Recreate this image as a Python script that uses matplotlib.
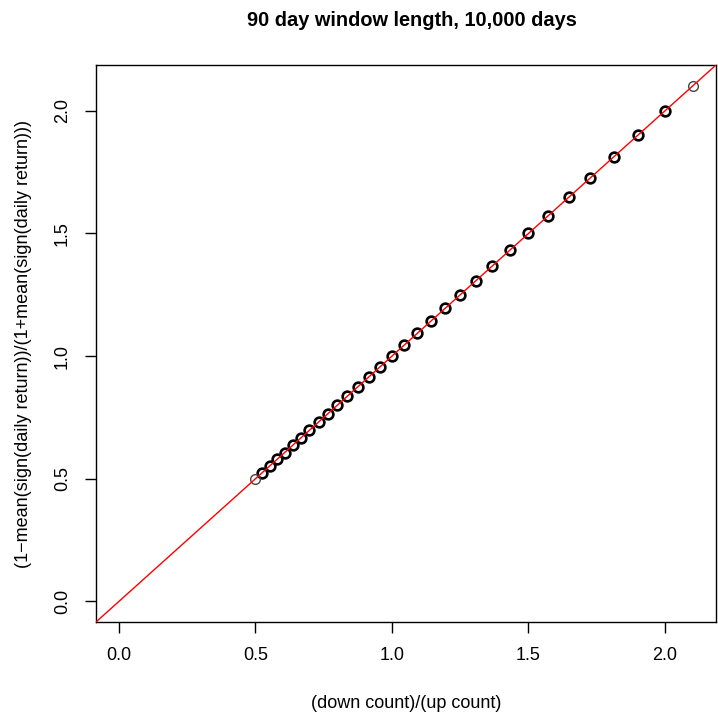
import numpy as np
import matplotlib.pyplot as plt

# down/up count ratios seen in 90-day windows
ratio_x = [0.500, 0.525, 0.552, 0.579, 0.607, 0.636, 0.667, 0.698, 0.731,
           0.765, 0.800, 0.837, 0.875, 0.915, 0.957, 1.000, 1.045, 1.093,
           1.143, 1.195, 1.250, 1.308, 1.368, 1.432, 1.500, 1.571, 1.647,
           1.727, 1.813, 1.903, 2.000, 2.103]
ratio_y = [0.500, 0.525, 0.552, 0.579, 0.607, 0.636, 0.667, 0.698, 0.731,
           0.765, 0.800, 0.837, 0.875, 0.915, 0.957, 1.000, 1.045, 1.093,
           1.143, 1.195, 1.250, 1.308, 1.368, 1.432, 1.500, 1.571, 1.647,
           1.727, 1.813, 1.903, 2.000, 2.103]
ticks = [0.0, 0.5, 1.0, 1.5, 2.0]

plt.rcParams['font.family'] = ['Liberation Sans', 'DejaVu Sans']

fig = plt.figure(figsize=(7.18, 7.19), dpi=100)
ax = fig.add_axes([96 / 718, 1 - 622 / 719, 620 / 718, 557 / 719])

lo, hi = -0.084, 2.187
ax.set_xlim(lo, hi)
ax.set_ylim(lo, hi)

# y = x reference line
ax.axline((0, 0), slope=1, color='red', lw=1, zorder=3)

# endpoints appear only once, the rest are overplotted many times
ax.plot(ratio_x[1:-1], ratio_y[1:-1], 'o', ms=7, mfc='none', mec='black',
        mew=1.9, zorder=2)
ax.plot([ratio_x[0], ratio_x[-1]], [ratio_y[0], ratio_y[-1]], 'o', ms=7,
        mfc='none', mec='#444444', mew=1.0, zorder=2)

ax.set_xticks(ticks)
ax.set_yticks(ticks)
ax.set_xticklabels([f'{t:.1f}' for t in ticks])
ax.set_yticklabels([f'{t:.1f}' for t in ticks], rotation=90, va='center')
ax.tick_params(length=8, width=1, labelsize=13, pad=10)
for s in ax.spines.values():
    s.set_linewidth(1)

ax.set_xlabel('(down count)/(up count)', fontsize=13, labelpad=22)
ax.set_ylabel('(1\u2212mean(sign(daily return))/(1+mean(sign(daily return)))',
              fontsize=13, labelpad=16)
fig.text(412 / 718, 1 - 21 / 719, '90 day window length, 10,000 days',
         ha='center', va='center', fontsize=14.4, fontweight='bold')

fig.savefig('out.png', dpi=100)
